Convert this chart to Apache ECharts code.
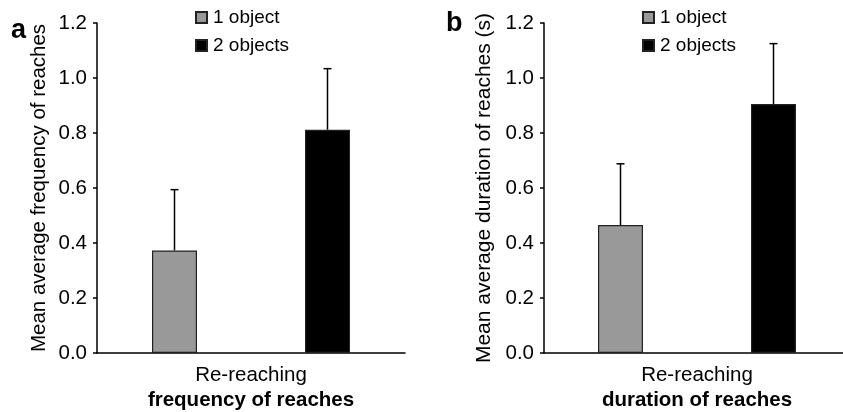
<!DOCTYPE html>
<html>
<head>
<meta charset="utf-8">
<script src="https://cdn.jsdelivr.net/npm/echarts@6/dist/echarts.min.js"></script>
<style>
    html, body { margin: 0; padding: 0; background: #fff; }
    #reachChart { width: 843px; height: 412px; }
</style>
</head>
<body>
<div id="reachChart"></div>
<script>
    // data
    const categories = ['Re-reaching']
    const seriesNames = ['1 object', '2 objects']
    const panelLetters = ['a', 'b']
    const yTitles = ['Mean average frequency of reaches', 'Mean average duration of reaches (s)']
    const subTitles = ['frequency of reaches', 'duration of reaches']
    // means per panel: [1 object, 2 objects]
    const freqMeans = [0.373, 0.812]
    const freqUpper = [0.594, 1.034]
    const durMeans = [0.465, 0.905]
    const durUpper = [0.688, 1.125]
    const yTicks = ['0.0', '0.2', '0.4', '0.6', '0.8', '1.0', '1.2']

    const means = [freqMeans, durMeans]
    const uppers = [freqUpper, durUpper]
    const colors = ['#999999', '#000000']
    const font = 'Liberation Sans, Arial, sans-serif'
    const fs = 20.5
    const barWidth = 45
    const barGap = 2.4

    const grids = [
        { left: 97, top: 23, width: 308, height: 330, outerBoundsMode: 'none' },
        { left: 544, top: 23, width: 306, height: 330, outerBoundsMode: 'none' }
    ]

    function errorRenderer (offset) {
        return function (params, api) {
            const base = api.coord([api.value(0), api.value(1)])
            const top = api.coord([api.value(0), api.value(2)])
            const x = base[0] + offset
            const style = { stroke: '#000', lineWidth: 1.5 }
            return {
                type: 'group',
                children: [
                    { type: 'line', shape: { x1: x, y1: base[1], x2: x, y2: top[1] }, style: style },
                    { type: 'line', shape: { x1: x - 4, y1: top[1], x2: x + 4, y2: top[1] }, style: style }
                ]
            }
        }
    }

    const halfStep = (barWidth + barWidth * barGap) / 2
    let series = []
    grids.forEach((g, p) => {
        seriesNames.forEach((name, i) => {
            series.push({
                name: name,
                type: 'bar',
                xAxisIndex: p,
                yAxisIndex: p,
                barWidth: barWidth,
                barGap: (barGap * 100) + '%',
                data: [means[p][i]],
                itemStyle: { color: colors[i], borderColor: '#222', borderWidth: 1.2 }
            })
        })
        seriesNames.forEach((name, i) => {
            series.push({
                name: 'err ' + name,
                type: 'custom',
                xAxisIndex: p,
                yAxisIndex: p,
                z: 5,
                renderItem: errorRenderer(i === 0 ? -halfStep : halfStep),
                data: [[0, means[p][i], uppers[p][i]]]
            })
        })
    })

    const myChart = echarts.init(document.getElementById('reachChart'))
    const option = {
        animation: false,
        textStyle: { fontFamily: font },
        title: panelLetters.map((t, p) => ({
            text: t,
            left: p === 0 ? 11 : 446,
            top: p === 0 ? 17 : 10,
            padding: 0,
            textStyle: { fontSize: 27, fontWeight: 'bold', color: '#000', fontFamily: font }
        })),
        legend: grids.map((g, p) => ({
            data: seriesNames,
            orient: 'vertical',
            left: p === 0 ? 195 : 642,
            top: 7,
            itemWidth: 11,
            itemHeight: 11,
            itemGap: 7,
            padding: 0,
            icon: 'rect',
            selectedMode: false,
            textStyle: { fontSize: 19, color: '#000', lineHeight: 21, fontFamily: font, padding: [0, 0, 0, 1] }
        })),
        grid: grids,
        xAxis: grids.map((g, p) => ({
            type: 'category',
            gridIndex: p,
            data: categories,
            axisLine: { lineStyle: { color: '#000', width: 1.5 } },
            axisTick: { length: 5, lineStyle: { color: '#000', width: 1.5 } },
            axisLabel: {
                color: '#000',
                fontSize: fs,
                lineHeight: 25,
                margin: 10,
                formatter: (v) => v + '\n{b|' + subTitles[p] + '}',
                rich: { b: { fontSize: fs, fontWeight: 'bold', lineHeight: 25, color: '#000', fontFamily: font } }
            }
        })),
        yAxis: grids.map((g, p) => ({
            type: 'value',
            gridIndex: p,
            min: 0,
            max: 1.2,
            interval: 0.2,
            name: yTitles[p],
            nameLocation: 'middle',
            nameGap: p === 0 ? 47 : 49,
            nameTextStyle: { fontSize: p === 0 ? 20.5 : 21, color: '#000', fontFamily: font },
            splitLine: { show: false },
            axisLine: { show: true, lineStyle: { color: '#000', width: 1.5 } },
            axisTick: { show: true, length: 4, lineStyle: { color: '#000', width: 1.5 } },
            axisLabel: {
                color: '#000',
                fontSize: fs,
                margin: 10,
                formatter: (v) => yTicks[Math.round(v / 0.2)]
            }
        })),
        series: series
    }
    myChart.setOption(option)
</script>
</body>
</html>
